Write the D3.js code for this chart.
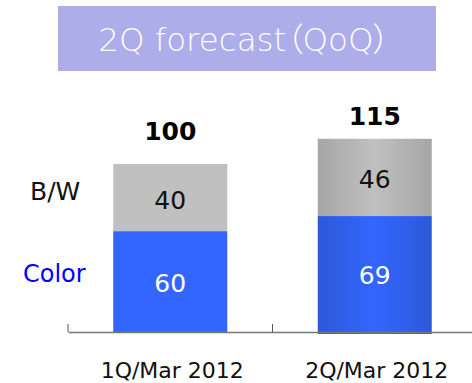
<!DOCTYPE html>
<html>
<head>
<meta charset="utf-8">
<script src="https://cdn.jsdelivr.net/npm/d3@7"></script>
<style>
  body { margin: 0; background: #fff; }
  text { font-family: "DejaVu Sans", "Noto Sans CJK JP", sans-serif; font-feature-settings: "palt"; }
</style>
</head>
<body>
<div id="chart"></div>
<script>
var categories = ["1Q/Mar 2012", "2Q/Mar 2012"];
var colorVals = [60, 69];
var bwVals = [40, 46];
var totals = [100, 115];
var seriesNames = ["Color", "B/W"];

var W = 472, H = 383;
var svg = d3.select("#chart").append("svg")
    .attr("width", W)
    .attr("height", H);

// gradient for the forecast bar
var defs = svg.append("defs");
function grad(id, edge, mid) {
    var g = defs.append("linearGradient").attr("id", id)
        .attr("x1", "0%").attr("x2", "100%").attr("y1", "0%").attr("y2", "0%");
    g.append("stop").attr("offset", "0%").attr("stop-color", edge);
    g.append("stop").attr("offset", "50%").attr("stop-color", mid);
    g.append("stop").attr("offset", "100%").attr("stop-color", edge);
}
grad("gBlue", "#2c59d8", "#3366ff");
grad("gGray", "#a6a6a6", "#c0c0c0");

// title box
svg.append("rect")
    .attr("x", 58).attr("y", 6)
    .attr("width", 378).attr("height", 65)
    .attr("fill", "#adadea");
svg.append("text")
    .attr("x", 244).attr("y", 51)
    .attr("text-anchor", "middle")
    .attr("fill", "#fff")
    .style("font-size", "32.5px")
    .style("font-weight", "300")
    .text("2Q forecast（QoQ）");

var x = d3.scaleBand()
    .domain(categories)
    .range([68, 477])
    .paddingInner(0)
    .paddingOuter(0);

var y = d3.scaleLinear()
    .domain([0, 100])
    .range([332, 164]);

var barW = 114;
var fills = [
    { blue: "#3366ff", gray: "#c0c0c0" },
    { blue: "url(#gBlue)", gray: "url(#gGray)" }
];
var totalGap = [24, 14];

var g = svg.append("g");
categories.forEach(function (c, i) {
    var cx = x(c) + x.bandwidth() / 2;
    var x0 = cx - barW / 2;
    // B/W on top
    g.append("rect")
        .attr("x", x0).attr("width", barW)
        .attr("y", y(totals[i])).attr("height", y(colorVals[i]) - y(totals[i]))
        .attr("fill", fills[i].gray);
    // Color at bottom
    g.append("rect")
        .attr("x", x0).attr("width", barW)
        .attr("y", y(colorVals[i])).attr("height", y(0) - y(colorVals[i]) + (i == 1 ? 2 : 0))
        .attr("fill", fills[i].blue);

    g.append("text")
        .attr("x", cx).attr("y", (y(totals[i]) + y(colorVals[i])) / 2 + 11)
        .attr("text-anchor", "middle")
        .attr("fill", "#111")
        .style("font-size", "25px")
        .text(bwVals[i]);
    g.append("text")
        .attr("x", cx).attr("y", (y(colorVals[i]) + y(0)) / 2 + 10)
        .attr("text-anchor", "middle")
        .attr("fill", "#fff")
        .style("font-size", "25px")
        .text(colorVals[i]);
    g.append("text")
        .attr("x", cx).attr("y", y(totals[i]) - totalGap[i])
        .attr("text-anchor", "middle")
        .attr("fill", "#000")
        .style("font-size", "25px")
        .style("font-weight", "bold")
        .text(totals[i]);
});

// axis
var axis = svg.append("g")
    .attr("transform", "translate(0,332)")
    .call(d3.axisBottom(x).tickSize(0).tickFormat(""));
axis.select(".domain").attr("stroke", "#777").attr("stroke-width", 1.5);
[68, 68 + x.bandwidth(), 68 + 2 * x.bandwidth()].forEach(function (px) {
    axis.append("line")
        .attr("x1", px).attr("x2", px)
        .attr("y1", 0).attr("y2", -8)
        .attr("stroke", "#555");
});

categories.forEach(function (c) {
    svg.append("text")
        .attr("x", x(c) + x.bandwidth() / 2 + 2).attr("y", 378)
        .attr("text-anchor", "middle")
        .attr("fill", "#111")
        .style("font-size", "22px")
        .text(c);
});

// series labels
svg.append("text")
    .attr("x", 30).attr("y", 200)
    .attr("fill", "#111")
    .style("font-size", "25px")
    .text(seriesNames[1]);
svg.append("text")
    .attr("x", 23).attr("y", 282)
    .attr("fill", "#0000ff")
    .style("font-size", "24px")
    .text(seriesNames[0]);
</script>
</body>
</html>
